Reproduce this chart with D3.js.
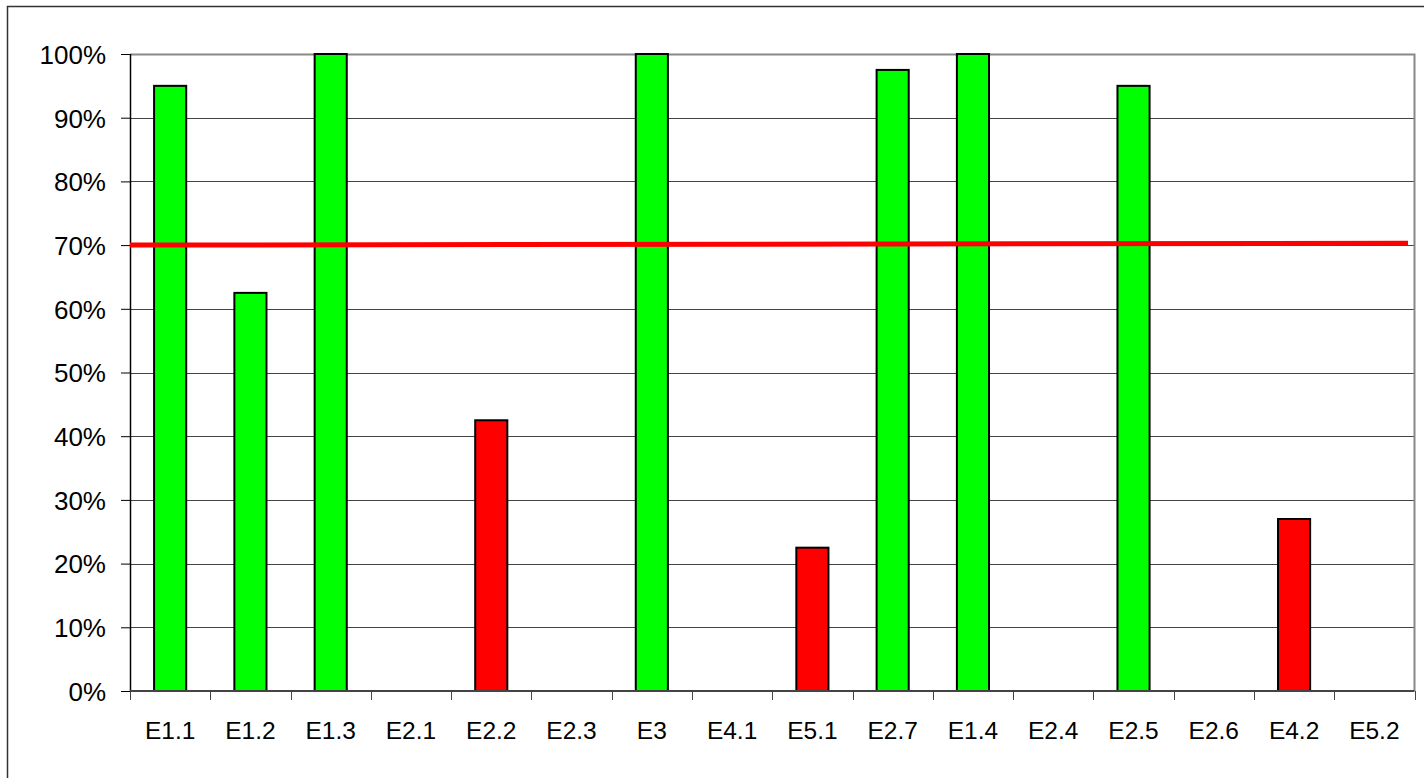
<!DOCTYPE html>
<html>
<head>
<meta charset="utf-8">
<script src="https://cdn.jsdelivr.net/npm/d3@7"></script>
<style>
  html, body { margin: 0; padding: 0; background: #fff; }
  svg { display: block; }
  text { font-family: "Liberation Sans", Arial, sans-serif; fill: #000; }
</style>
</head>
<body>
<svg id="chart" width="1424" height="778"></svg>
<script>
const categories = ["E1.1","E1.2","E1.3","E2.1","E2.2","E2.3","E3","E4.1","E5.1","E2.7","E1.4","E2.4","E2.5","E2.6","E4.2","E5.2"];
const values     = [0.95, 0.625, 1.0, 0, 0.425, 0, 1.0, 0, 0.225, 0.975, 1.0, 0, 0.95, 0, 0.27, 0];
const status     = ["ok","ok","ok","ok","fail","ok","ok","ok","fail","ok","ok","ok","ok","ok","fail","ok"];
const threshold  = [0.70, 0.703]; // target line start / end
const yTicks     = [0, 0.1, 0.2, 0.3, 0.4, 0.5, 0.6, 0.7, 0.8, 0.9, 1.0];

(function () {
const svg = d3.select("#chart");
const W = 1424, H = 778;
const pL = 130, pR = 1414.5, pT = 54, pB = 691;
const colorOf = {ok: "#00ff00", fail: "#ff0000"};

// outer frame
svg.append("rect").attr("x", 7.5).attr("y", 6.5).attr("width", W + 20).attr("height", H + 20)
  .attr("fill", "none").attr("stroke", "#333").attr("stroke-width", 1.5);

const x = d3.scaleBand().domain(categories).range([pL, pR]).paddingInner(0).paddingOuter(0);
const y = d3.scaleLinear().domain([0, 1]).range([pB, pT]);

// gridlines
svg.append("g").selectAll("line").data(yTicks.filter(d => d > 0 && d < 1)).join("line")
  .attr("x1", pL).attr("x2", pR)
  .attr("y1", d => Math.round(y(d)) + 0.5).attr("y2", d => Math.round(y(d)) + 0.5)
  .attr("stroke", "#444").attr("stroke-width", 1);

// plot border top/right (gray)
svg.append("path")
  .attr("d", `M${pL},${pT + 0.5}H${pR}V${pB}`)
  .attr("fill", "none").attr("stroke", "#888").attr("stroke-width", 2);

// bars
svg.append("g").selectAll("rect")
  .data(categories.map((c, i) => ({c, v: values[i], s: status[i]})).filter(d => d.v > 0)).join("rect")
  .attr("x", d => x(d.c) + x.bandwidth() * 0.3)
  .attr("width", x.bandwidth() * 0.4)
  .attr("y", d => y(d.v))
  .attr("height", d => y(0) - y(d.v))
  .attr("fill", d => colorOf[d.s])
  .attr("stroke", "#000").attr("stroke-width", 2);

// y axis
const yAxis = d3.axisLeft(y).tickValues(yTicks).tickFormat(d3.format(".0%")).tickSize(9).tickPadding(15);
const gy = svg.append("g").attr("transform", `translate(${pL},0)`).call(yAxis);
gy.select(".domain").attr("stroke", "#000").attr("stroke-width", 1.5).attr("d", `M0.5,${pT}V${pB}`);
gy.selectAll(".tick line").attr("stroke", "#000").attr("stroke-width", 1);
gy.selectAll("text").style("font-size", "26px").attr("font-family", "Liberation Sans, Arial, sans-serif").attr("dy", "0.36em");

// x axis
const xAxis = d3.axisBottom(x).tickSize(0).tickPadding(31);
const gx = svg.append("g").attr("transform", `translate(0,${pB})`).call(xAxis);
gx.select(".domain").attr("stroke", "#444").attr("stroke-width", 2).attr("d", `M${pL},0H${pR}`);
gx.selectAll("text").style("font-size", "24.5px").attr("font-family", "Liberation Sans, Arial, sans-serif");
// boundary tick marks
const bounds = categories.map(c => x(c)).concat([pR]);
svg.append("g").selectAll("line").data(bounds).join("line")
  .attr("x1", d => Math.round(d) + 0.5).attr("x2", d => Math.round(d) + 0.5)
  .attr("y1", pB).attr("y2", pB + 9)
  .attr("stroke", "#444").attr("stroke-width", 1);

// threshold line
svg.append("line")
  .attr("x1", pL).attr("x2", 1408)
  .attr("y1", y(threshold[0])).attr("y2", y(threshold[1]))
  .attr("stroke", "#ff0000").attr("stroke-width", 5);
})();
</script>
</body>
</html>
